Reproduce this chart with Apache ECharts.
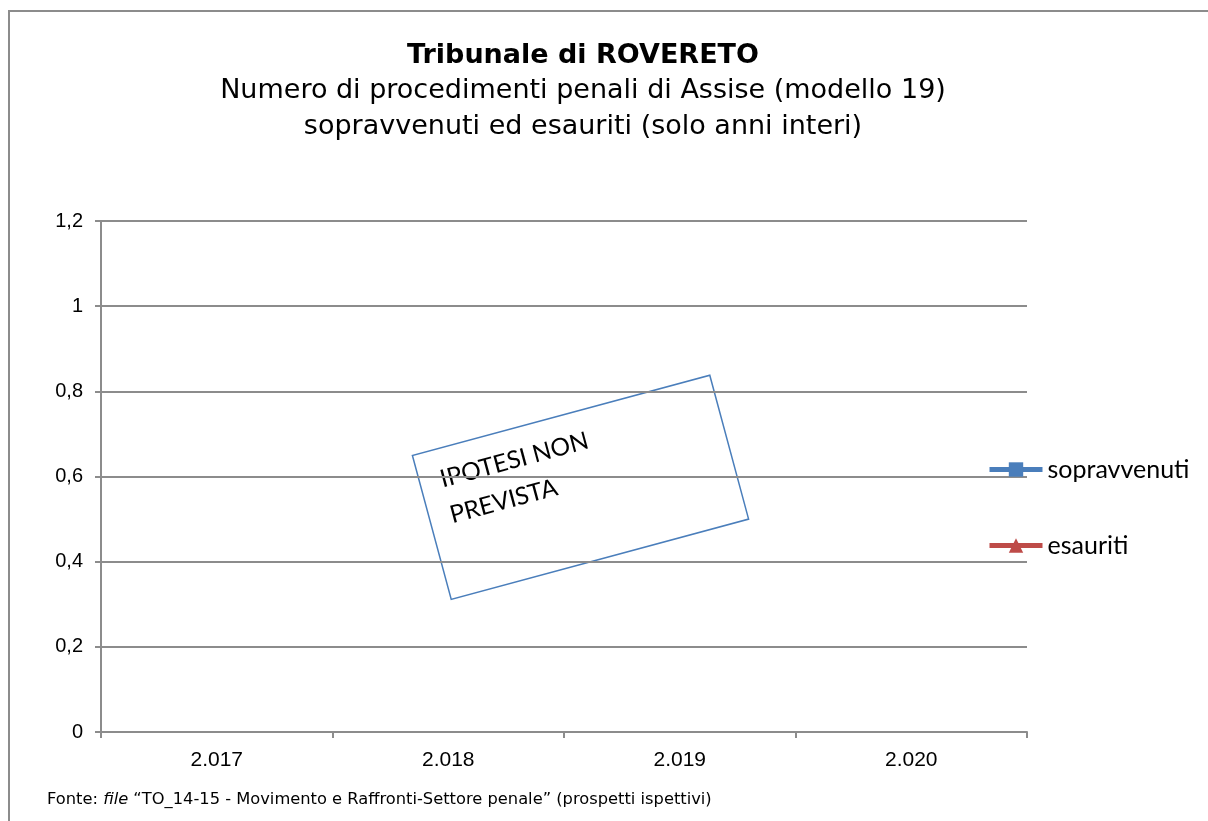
<!DOCTYPE html>
<html>
<head>
<meta charset="utf-8">
<script src="https://cdn.jsdelivr.net/npm/echarts@6/dist/echarts.min.js"></script>
<style>
  html, body { margin: 0; padding: 0; background: #fff; }
  #chart { width: 1208px; height: 821px; }
</style>
</head>
<body>
<div id="chart"></div>
<script>
// dati (nessun valore: ipotesi non prevista)
var anni = ['2.017', '2.018', '2.019', '2.020'];
var sopravvenuti = [null, null, null, null];
var esauriti = [null, null, null, null];
var yMin = 0, yMax = 1.2, yStep = 0.2;

var grigio = '#8c8c8c';
var angolo = 15.1 * Math.PI / 180;

var option = {
    animation: false,
    backgroundColor: '#fff',
    title: {
        text: 'Tribunale di ROVERETO',
        subtext: 'Numero di procedimenti penali di Assise (modello 19)\nsopravvenuti ed esauriti (solo anni interi)',
        left: 578,
        textAlign: 'center',
        top: 37,
        itemGap: 4,
        textStyle: { fontFamily: 'DejaVu Sans', fontWeight: 'bold', fontSize: 27, color: '#000' },
        subtextStyle: { fontFamily: 'DejaVu Sans', fontSize: 27, color: '#000', lineHeight: 36 }
    },
    legend: {
        orient: 'vertical',
        left: 987,
        top: 457,
        padding: 0,
        itemWidth: 53,
        itemHeight: 18,
        itemGap: 51,
        lineStyle: { width: 5 },
        textStyle: { fontFamily: 'Lato', fontSize: 25, color: '#000' },
        data: ['sopravvenuti', 'esauriti']
    },
    grid: { left: 101, right: 181, top: 221, bottom: 89 },
    xAxis: {
        type: 'category',
        data: anni,
        boundaryGap: true,
        axisLine: { lineStyle: { color: grigio, width: 2 } },
        axisTick: { show: true, length: 6, lineStyle: { color: grigio, width: 2 } },
        axisLabel: { fontFamily: 'Liberation Sans', fontSize: 21, color: '#000', margin: 18 }
    },
    yAxis: {
        type: 'value',
        min: yMin,
        max: yMax,
        interval: yStep,
        axisLine: { show: true, lineStyle: { color: grigio, width: 2 } },
        axisTick: { show: true, length: 6, lineStyle: { color: grigio, width: 2 } },
        splitLine: { lineStyle: { color: grigio, width: 2 } },
        axisLabel: {
            fontFamily: 'Liberation Sans', fontSize: 20, color: '#000', margin: 18,
            formatter: function (v) { return String(Math.round(v * 10) / 10).replace('.', ','); }
        }
    },
    series: [
        {
            name: 'sopravvenuti',
            type: 'line',
            data: sopravvenuti,
            color: '#4a7ebb',
            symbol: 'rect',
            symbolSize: 15,
            lineStyle: { width: 5, color: '#4a7ebb' }
        },
        {
            name: 'esauriti',
            type: 'line',
            data: esauriti,
            color: '#be4b48',
            symbol: 'triangle',
            symbolSize: 17,
            lineStyle: { width: 5, color: '#be4b48' }
        }
    ],
    graphic: [
        {
            type: 'rect',
            shape: { x: 9, y: 11, width: 1220, height: 830 },
            style: { fill: null, stroke: grigio, lineWidth: 2 },
            silent: true
        },
        {
            type: 'group',
            x: 580.5,
            y: 487.3,
            rotation: angolo,
            children: [
                {
                    type: 'rect',
                    shape: { x: -154, y: -74.5, width: 308, height: 149 },
                    style: { fill: 'rgba(255,255,255,0)', stroke: '#4a7ebb', lineWidth: 1.5 }
                },
                {
                    type: 'text',
                    x: -133,
                    y: -62,
                    style: {
                        text: 'IPOTESI NON\nPREVISTA',
                        fontFamily: 'Lato',
                        fontSize: 24.5,
                        lineHeight: 37,
                        fill: '#000'
                    }
                }
            ]
        },
        {
            type: 'text',
            left: 47,
            top: 792,
            style: {
                text: '{n|Fonte: }{i|file}{n| “TO_14-15 - Movimento e Raffronti-Settore penale” (prospetti ispettivi)}',
                rich: {
                    n: { fontFamily: 'DejaVu Sans', fontSize: 16.3, fill: '#000' },
                    i: { fontFamily: 'DejaVu Sans', fontStyle: 'italic', fontSize: 16.3, fill: '#000' }
                }
            }
        }
    ]
};

var myChart = echarts.init(document.getElementById('chart'));
myChart.setOption(option);
</script>
</body>
</html>
